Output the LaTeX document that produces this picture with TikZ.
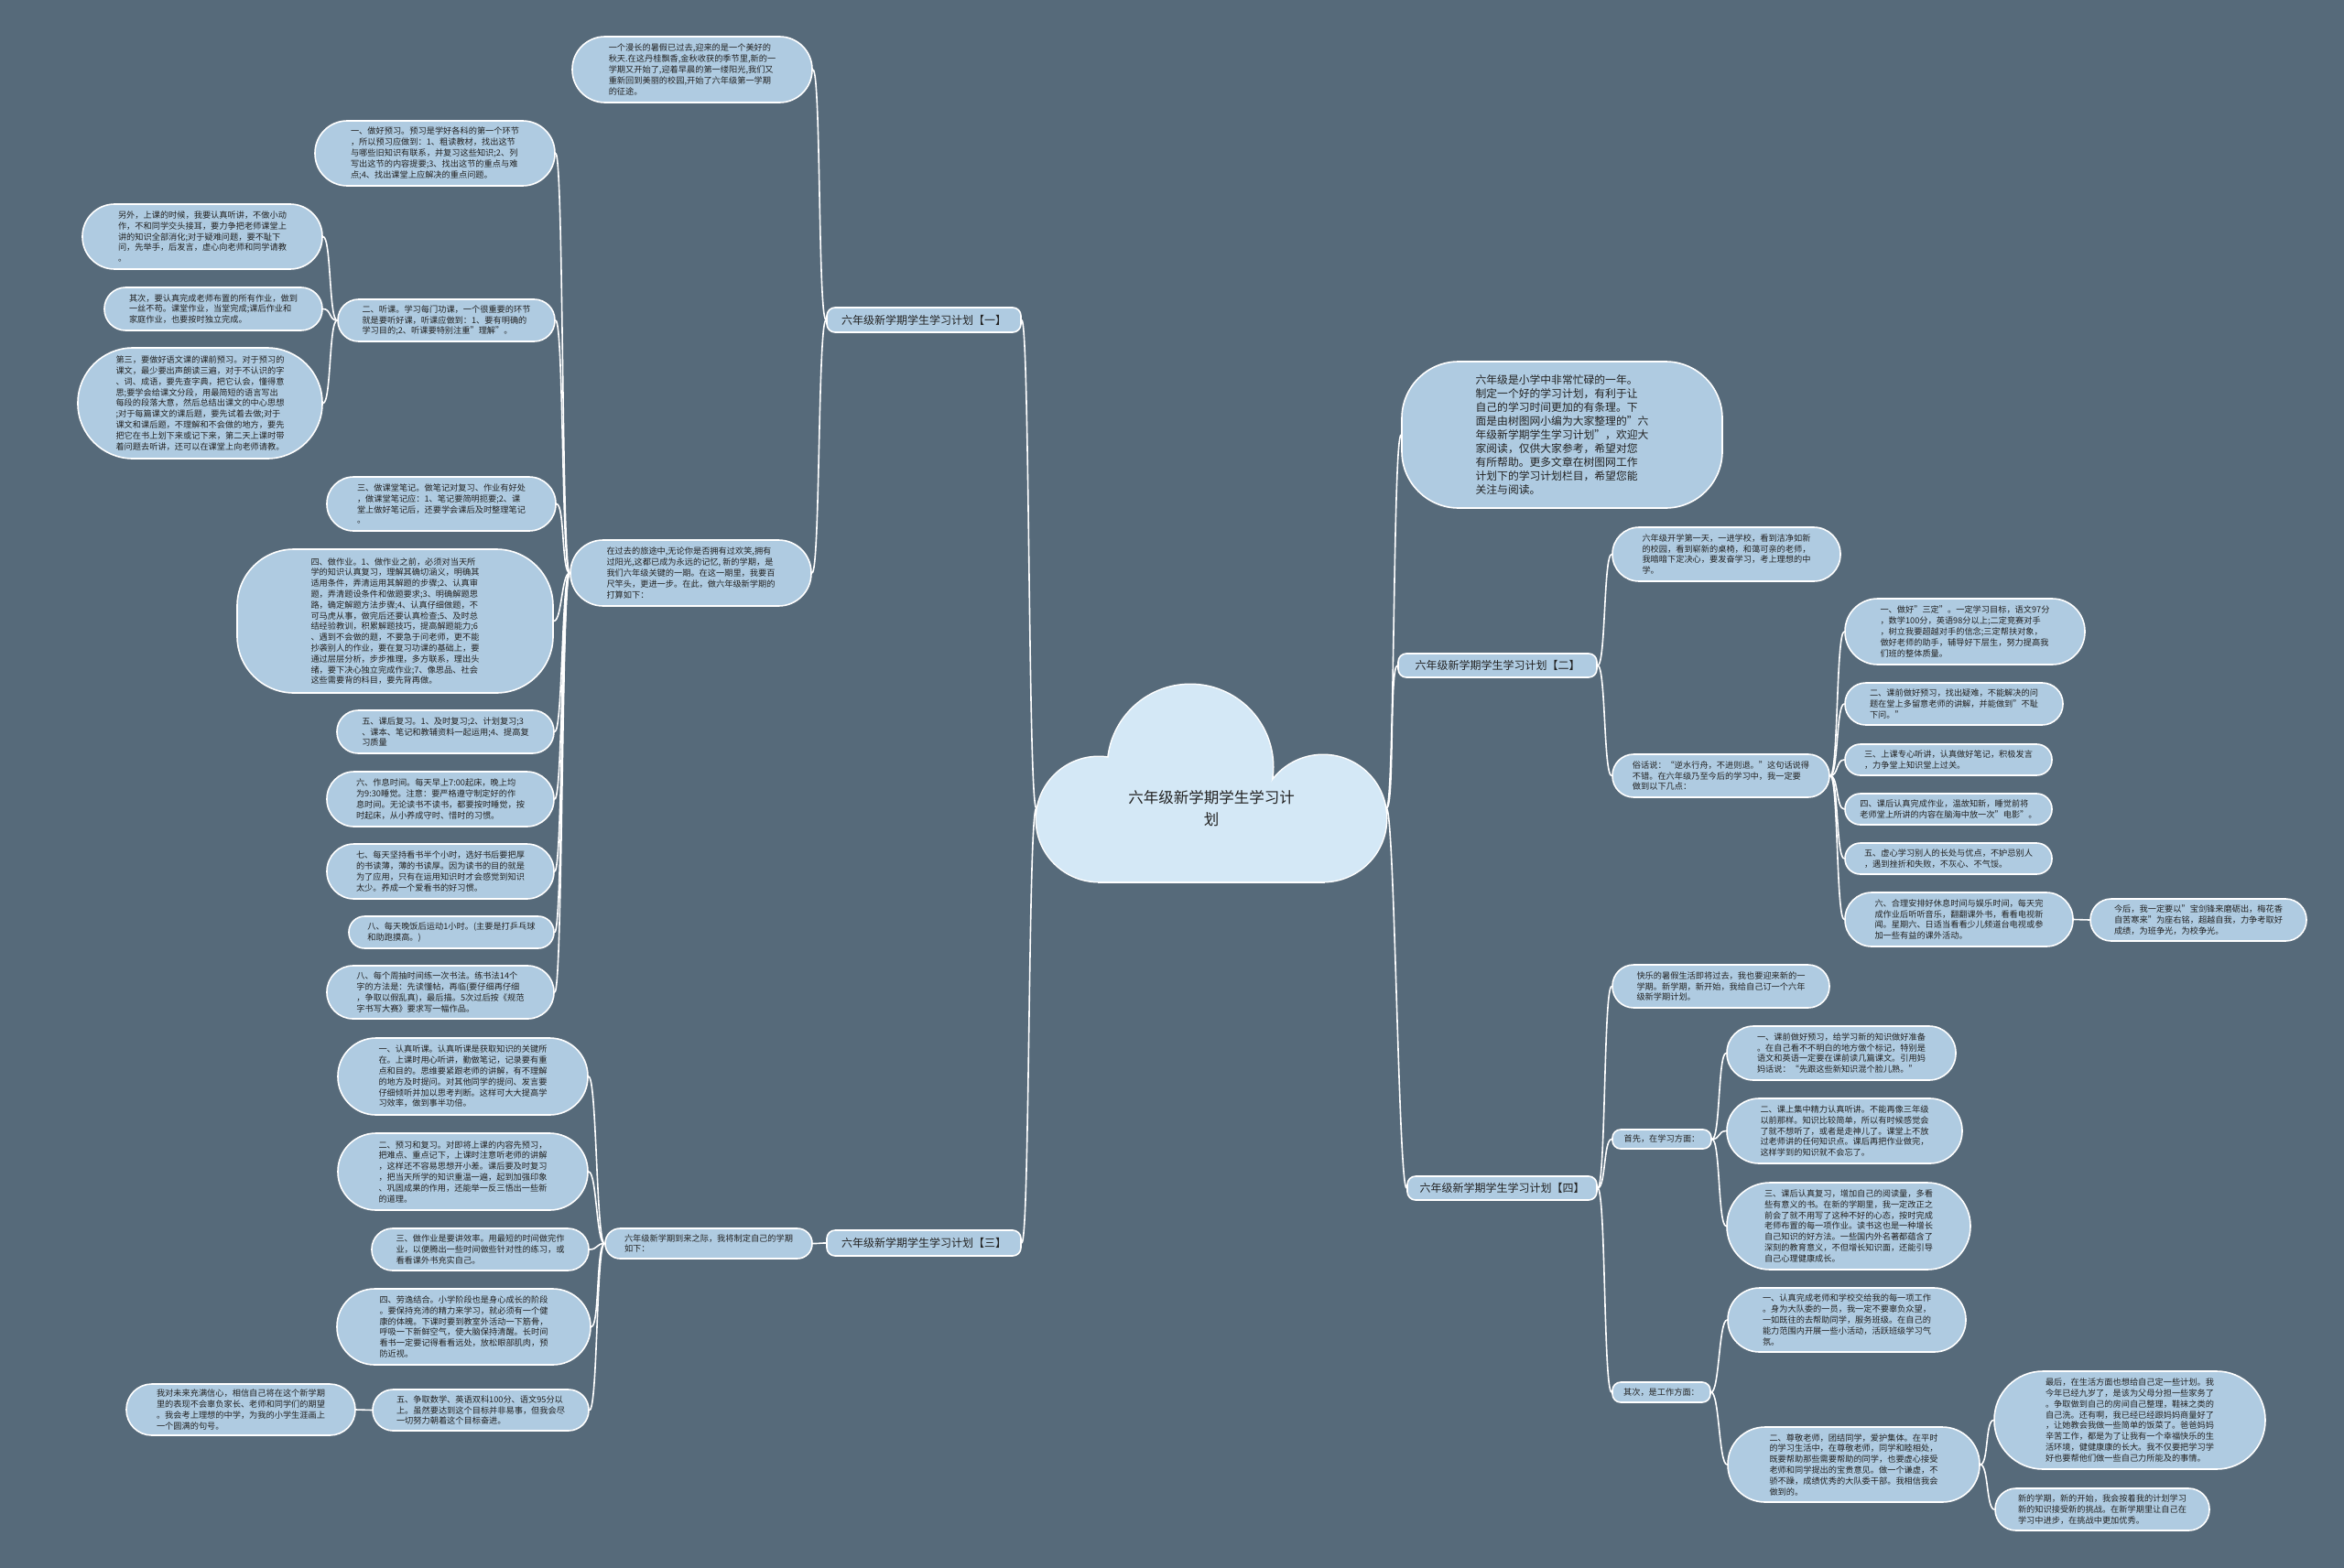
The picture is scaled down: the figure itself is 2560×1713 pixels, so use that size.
\documentclass[tikz,border=0pt]{standalone}
\usepackage{fontspec}
\setmainfont{Noto Sans CJK SC}
\usetikzlibrary{calc}
\definecolor{bgc}{HTML}{566A7A}
\definecolor{nfill}{HTML}{AFCBE1}
\definecolor{cfill}{HTML}{D4E8F6}
\definecolor{tcol}{HTML}{222222}
\tikzset{
  bub/.style={draw=white, line width=1.6pt, fill=nfill, text=tcol, align=left, inner sep=0pt, font=\fontsize{9.2}{11.8}\selectfont},
  bigtext/.style={font=\fontsize{11.8}{15}\selectfont},
  branch/.style={font=\fontsize{12}{14}\selectfont, rounded corners=9},
  conn/.style={draw=white, line width=1.6pt},
}
\newcommand\mkbub[7][]{\node[bub,minimum width={#5-#3},minimum height={#6-#4},rounded corners={min(62,(#6-#4)/2-0.3)},#1] (#2) at ({(#3+#5)/2},{(#4+#6)/2}) {#7};}
\newcommand\linkL[2]{\draw[conn] (#1.west) .. controls +(-9,0) and +(9,0) .. (#2.east);}
\newcommand\linkR[2]{\draw[conn] (#1.east) .. controls +(9,0) and +(-9,0) .. (#2.west);}
\newcommand\cloudparts[1]{%
  \path[#1] (1300,838) circle[radius=90pt];
  \path[#1] (1200,895) circle[radius=68pt];
  \path[#1] (1445,894) circle[radius=69pt];
  \path[#1] (1200,870) rectangle (1445,963);}
\begin{document}
\begin{tikzpicture}[x=1pt,y=-1pt]
\path[fill=bgc] (0,0) rectangle (2560,1713);
\useasboundingbox (0,0) rectangle (2560,1713);
% center cloud
\cloudparts{draw=white,line width=3pt}
\cloudparts{fill=cfill}
\node[font=\fontsize{16.5}{24}\selectfont, text=tcol, align=center, minimum width=382, inner sep=0pt] (ctr) at (1323,883) {六年级新学期学生学习计\\划};

% ===== left: branch 1
\mkbub[branch]{bA}{903}{336}{1115}{363}{六年级新学期学生学习计划【一】}
\mkbub{lz}{625}{40}{887}{112}{一个漫长的暑假已过去,迎来的是一个美好的\\秋天.在这丹桂飘香,金秋收获的季节里,新的一\\学期又开始了,迎着早晨的第一缕阳光,我们又\\重新回到美丽的校园,开始了六年级第一学期\\的征途。}
\mkbub{pA}{623}{590}{886}{662}{在过去的旅途中,无论你是否拥有过欢笑,拥有\\过阳光,这都已成为永远的记忆, 新的学期，是\\我们六年级关键的一期。在这一期里，我要百\\尺竿头，更进一步。在此，做六年级新学期的\\打算如下：}
\mkbub{la}{344}{132}{606}{203}{一、做好预习。预习是学好各科的第一个环节\\，所以预习应做到：1、粗读教材，找出这节\\与哪些旧知识有联系，并复习这些知识;2、列\\写出这节的内容提要;3、找出这节的重点与难\\点;4、找出课堂上应解决的重点问题。}
\mkbub{lb}{369}{327}{606}{373}{二、听课。学习每门功课，一个很重要的环节\\就是要听好课，听课应做到：1、要有明确的\\学习目的;2、听课要特别注重"理解"。}
\mkbub{lbone}{90}{223}{352}{294}{另外，上课的时候，我要认真听讲，不做小动\\作，不和同学交头接耳，要力争把老师课堂上\\讲的知识全部消化;对于疑难问题，要不耻下\\问，先举手，后发言，虚心向老师和同学请教\\。}
\mkbub{lbtwo}{114}{314}{352}{361}{其次，要认真完成老师布置的所有作业，做到\\一丝不苟。课堂作业，当堂完成;课后作业和\\家庭作业，也要按时独立完成。}
\mkbub{lbthree}{85}{380}{352}{501}{第三，要做好语文课的课前预习。对于预习的\\课文，最少要出声朗读三遍，对于不认识的字\\、词、成语，要先查字典，把它认会，懂得意\\思;要学会给课文分段，用最简短的语言写出\\每段的段落大意，然后总结出课文的中心思想\\;对于每篇课文的课后题，要先试着去做;对于\\课文和课后题，不理解和不会做的地方，要先\\把它在书上划下来或记下来，第二天上课时带\\着问题去听讲，还可以在课堂上向老师请教。}
\mkbub{lc}{357}{521}{607}{580}{三、做课堂笔记。做笔记对复习、作业有好处\\，做课堂笔记应：1、笔记要简明扼要;2、课\\堂上做好笔记后，还要学会课后及时整理笔记\\。}
\mkbub{ld}{259}{600}{604}{757}{四、做作业。1、做作业之前，必须对当天所\\学的知识认真复习，理解其确切涵义，明确其\\适用条件，弄清运用其解题的步骤;2、认真审\\题，弄清题设条件和做题要求;3、明确解题思\\路，确定解题方法步骤;4、认真仔细做题，不\\可马虎从事，做完后还要认真检查;5、及时总\\结经验教训，积累解题技巧，提高解题能力;6\\、遇到不会做的题，不要急于问老师，更不能\\抄袭别人的作业，要在复习功课的基础上，要\\通过层层分析，步步推理，多方联系，理出头\\绪，要下决心独立完成作业;7、像思品、社会\\这些需要背的科目，要先背再做。}
\mkbub{le}{368}{776}{605}{823}{五、课后复习。1、及时复习;2、计划复习;3\\、课本、笔记和教辅资料一起运用;4、提高复\\习质量}
\mkbub{lf}{357}{843}{605}{903}{六、作息时间。每天早上7:00起床，晚上均\\为9:30睡觉。注意：要严格遵守制定好的作\\息时间。无论读书不读书，都要按时睡觉，按\\时起床，从小养成守时、惜时的习惯。}
\mkbub{lg}{357}{922}{605}{982}{七、每天坚持看书半个小时，选好书后要把厚\\的书读薄，薄的书读厚。因为读书的目的就是\\为了应用，只有在运用知识时才会感觉到知识\\太少。养成一个爱看书的好习惯。}
\mkbub{lh}{381}{1001}{605}{1036}{八、每天晚饭后运动1小时。(主要是打乒乓球\\和助跑摸高。)}
\mkbub{li}{357}{1055}{605}{1113}{八、每个周抽时间练一次书法。练书法14个\\字的方法是：先读懂帖，再临(要仔细再仔细\\，争取以假乱真)，最后描。5次过后按《规范\\字书写大赛》要求写一幅作品。}

% ===== left: branch 3
\mkbub[branch]{bC}{903}{1344}{1115}{1372}{六年级新学期学生学习计划【三】}
\mkbub{pC}{661}{1342}{887}{1375}{六年级新学期到来之际，我将制定自己的学期\\如下：}
\mkbub{ma}{369}{1134}{642}{1218}{一、认真听课。认真听课是获取知识的关键所\\在。上课时用心听讲，勤做笔记，记录要有重\\点和目的。思维要紧跟老师的讲解，有不理解\\的地方及时提问。对其他同学的提问、发言要\\仔细倾听并加以思考判断。这样可大大提高学\\习效率，做到事半功倍。}
\mkbub{mb}{369}{1238}{642}{1322}{二、预习和复习。对即将上课的内容先预习，\\把难点、重点记下，上课时注意听老师的讲解\\，这样还不容易思想开小差。课后要及时复习\\，把当天所学的知识重温一遍，起到加强印象\\、巩固成果的作用，还能举一反三悟出一些新\\的道理。}
\mkbub{mc}{406}{1342}{643}{1388}{三、做作业是要讲效率。用最短的时间做完作\\业，以便腾出一些时间做些针对性的练习，或\\看看课外书充实自己。}
\mkbub{md}{368}{1408}{645}{1491}{四、劳逸结合。小学阶段也是身心成长的阶段\\。要保持充沛的精力来学习，就必须有一个健\\康的体魄。下课时要到教室外活动一下筋骨，\\呼吸一下新鲜空气，使大脑保持清醒。长时间\\看书一定要记得看看远处，放松眼部肌肉，预\\防近视。}
\mkbub{me}{407}{1518}{643}{1563}{五、争取数学、英语双科100分、语文95分以\\上。虽然要达到这个目标并非易事，但我会尽\\一切努力朝着这个目标奋进。}
\mkbub{meone}{138}{1512}{388}{1568}{我对未来充满信心，相信自己将在这个新学期\\里的表现不会辜负家长、老师和同学们的期望\\。我会考上理想的中学，为我的小学生涯画上\\一个圆满的句号。}

% ===== right
\mkbub[bigtext]{rz}{1531}{395}{1881}{555}{六年级是小学中非常忙碌的一年。\\制定一个好的学习计划，有利于让\\自己的学习时间更加的有条理。下\\面是由树图网小编为大家整理的"六\\年级新学期学生学习计划"，欢迎大\\家阅读，仅供大家参考，希望对您\\有所帮助。更多文章在树图网工作\\计划下的学习计划栏目，希望您能\\关注与阅读。}
\mkbub[branch]{bB}{1527}{714}{1744}{740}{六年级新学期学生学习计划【二】}
\mkbub{ra}{1761}{576}{2010}{635}{六年级开学第一天，一进学校，看到洁净如新\\的校园，看到崭新的桌椅，和蔼可亲的老师，\\我暗暗下定决心，要发奋学习，考上理想的中\\学。}
\mkbub{rb}{1761}{824}{1998}{871}{俗话说：“逆水行舟，不进则退。”这句话说得\\不错。在六年级乃至今后的学习中，我一定要\\做到以下几点：}
\mkbub{rbone}{2015}{654}{2277}{726}{一、做好"三定"。一定学习目标，语文97分\\，数学100分，英语98分以上;二定竞赛对手\\，树立我要超越对手的信念;三定帮扶对象，\\做好老师的助手，辅导好下层生，努力提高我\\们班的整体质量。}
\mkbub{rbtwo}{2015}{746}{2253}{792}{二、课前做好预习，找出疑难，不能解决的问\\题在堂上多留意老师的讲解，并能做到"不耻\\下问。"}
\mkbub{rbthree}{2015}{813}{2241}{847}{三、上课专心听讲，认真做好笔记，积极发言\\，力争堂上知识堂上过关。}
\mkbub{rbfour}{2015}{867}{2241}{901}{四、课后认真完成作业，温故知新，睡觉前将\\老师堂上所讲的内容在脑海中放一次"电影"。}
\mkbub{rbfive}{2015}{921}{2241}{955}{五、虚心学习别人的长处与优点，不妒忌别人\\，遇到挫折和失败，不灰心、不气馁。}
\mkbub{rbsix}{2015}{975}{2264}{1034}{六、合理安排好休息时间与娱乐时间，每天完\\成作业后听听音乐，翻翻课外书，看看电视新\\闻。星期六、日适当看看少儿频道台电视或参\\加一些有益的课外活动。}
\mkbub{rbseven}{2283}{982}{2519}{1028}{今后，我一定要以"宝剑锋来磨砺出，梅花香\\自苦寒来"为座右铭，超越自我，力争考取好\\成绩，为班争光，为校争光。}

\mkbub[branch]{bD}{1537}{1285}{1744}{1311}{六年级新学期学生学习计划【四】}
\mkbub{sa}{1761}{1054}{1998}{1101}{快乐的暑假生活即将过去，我也要迎来新的一\\学期。新学期，新开始，我给自己订一个六年\\级新学期计划。}
\mkbub[rounded corners=9]{sb}{1761}{1234}{1869}{1255}{首先，在学习方面：}
\mkbub{sbone}{1886}{1121}{2136}{1180}{一、课前做好预习，给学习新的知识做好准备\\。在自己看不不明白的地方做个标记，特别是\\语文和英语一定要在课前读几篇课文。引用妈\\妈话说：“先跟这些新知识混个脸儿熟。”}
\mkbub{sbtwo}{1886}{1200}{2143}{1271}{二、课上集中精力认真听讲。不能再像三年级\\以前那样。知识比较简单，所以有时候感觉会\\了就不想听了，或者是走神儿了。课堂上不放\\过老师讲的任何知识点。课后再把作业做完，\\这样学到的知识就不会忘了。}
\mkbub{sbthree}{1886}{1292}{2152}{1387}{三、课后认真复习，增加自己的阅读量，多看\\些有意义的书。在新的学期里，我一定改正之\\前会了就不用写了这种不好的心态，按时完成\\老师布置的每一项作业。读书这也是一种增长\\自己知识的好方法。一些国内外名著都蕴含了\\深刻的教育意义，不但增长知识面，还能引导\\自己心理健康成长。}
\mkbub[rounded corners=9]{sc}{1761}{1510}{1868}{1532}{其次，是工作方面：}
\mkbub{scone}{1887}{1407}{2147}{1477}{一、认真完成老师和学校交给我的每一项工作\\。身为大队委的一员，我一定不要辜负众望，\\一如既往的去帮助同学，服务班级。在自己的\\能力范围内开展一些小活动，活跃班级学习气\\氛。}
\mkbub{sctwo}{1887}{1559}{2162}{1641}{二、尊敬老师，团结同学，爱护集体。在平时\\的学习生活中，在尊敬老师，同学和睦相处，\\既要帮助那些需要帮助的同学，也要虚心接受\\老师和同学提出的宝贵意见。做一个谦虚，不\\骄不躁，成绩优秀的大队委干部。我相信我会\\做到的。}
\mkbub{scta}{2178}{1498}{2474}{1605}{最后，在生活方面也想给自己定一些计划。我\\今年已经九岁了，是该为父母分担一些家务了\\。争取做到自己的房间自己整理，鞋袜之类的\\自己洗。还有啊，我已经已经跟妈妈商量好了\\，让她教会我做一些简单的饭菜了。爸爸妈妈\\辛苦工作，都是为了让我有一个幸福快乐的生\\活环境，健健康康的长大。我不仅要把学习学\\好也要帮他们做一些自己力所能及的事情。}
\mkbub{sctb}{2179}{1626}{2413}{1672}{新的学期，新的开始，我会按着我的计划学习\\新的知识接受新的挑战。在新学期里让自己在\\学习中进步，在挑战中更加优秀。}

% ===== connectors
\linkL{ctr}{bA}
\linkL{ctr}{bC}
\linkR{ctr}{rz}
\linkR{ctr}{bB}
\linkR{ctr}{bD}
\linkL{bA}{lz}
\linkL{bA}{pA}
\foreach \c in {la,lb,lc,ld,le,lf,lg,lh,li} {\linkL{pA}{\c}}
\foreach \c in {lbone,lbtwo,lbthree} {\linkL{lb}{\c}}
\linkL{bC}{pC}
\foreach \c in {ma,mb,mc,md,me} {\linkL{pC}{\c}}
\linkL{me}{meone}
\linkR{bB}{ra}
\linkR{bB}{rb}
\foreach \c in {rbone,rbtwo,rbthree,rbfour,rbfive,rbsix} {\linkR{rb}{\c}}
\linkR{rbsix}{rbseven}
\foreach \c in {sa,sb,sc} {\linkR{bD}{\c}}
\foreach \c in {sbone,sbtwo,sbthree} {\linkR{sb}{\c}}
\foreach \c in {scone,sctwo} {\linkR{sc}{\c}}
\linkR{sctwo}{scta}
\linkR{sctwo}{sctb}
\end{tikzpicture}
\end{document}
